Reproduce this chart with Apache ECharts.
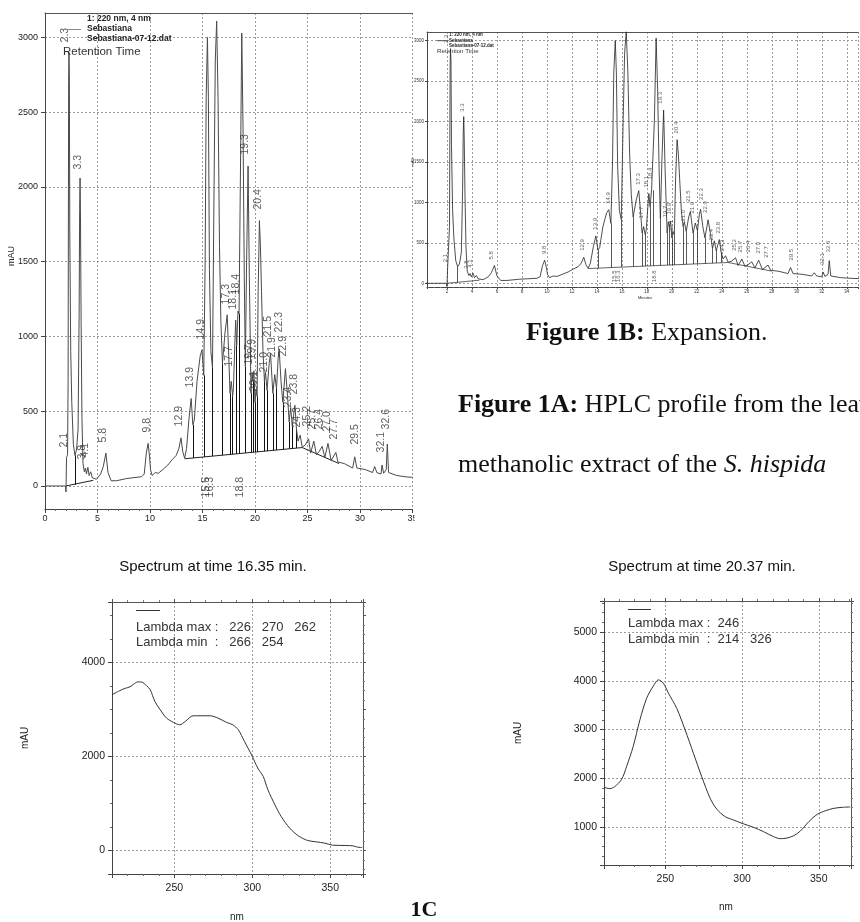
<!DOCTYPE html>
<html><head><meta charset="utf-8">
<script src="https://cdn.jsdelivr.net/npm/echarts@6/dist/echarts.min.js"></script>
<style>html,body{margin:0;padding:0;background:#fff}#c{width:860px;height:922px}</style>
</head><body><div id="c"></div><script>
// ---------- Chromatogram (Figure 1A / 1B) ----------
const chromTime = [0, 1.95, 2.0, 2.05, 2.15, 2.2, 2.25, 2.28, 2.32, 2.36,
  2.45, 2.55, 2.7, 2.85, 3.0, 3.15, 3.25, 3.3, 3.34, 3.38,
  3.44, 3.52, 3.62, 3.75, 3.85, 3.95, 4.08, 4.2, 4.35, 4.5,
  4.9, 5.3, 5.55, 5.8, 6.0, 6.3, 6.8, 7.8, 9.2, 9.45,
  9.65, 9.82, 9.95, 10.05, 10.2, 10.5, 10.8, 11.3, 11.7, 12.1,
  12.5, 12.75, 12.95, 13.12, 13.3, 13.48, 13.72, 13.92, 14.08, 14.22,
  14.48, 14.78, 14.95, 15.12, 15.25, 15.35, 15.47, 15.56, 15.66, 15.8,
  15.95, 16.1, 16.22, 16.35, 16.48, 16.62, 16.75, 16.9, 17.15, 17.35,
  17.5, 17.62, 17.74, 17.87, 17.95, 18.08, 18.16, 18.26, 18.38, 18.48,
  18.6, 18.74, 18.86, 18.98, 19.08, 19.2, 19.34, 19.46, 19.62, 19.72,
  19.8, 19.9, 20.0, 20.1, 20.2, 20.3, 20.42, 20.52, 20.62, 20.76,
  20.9, 21.0, 21.15, 21.35, 21.48, 21.7, 21.88, 22.05, 22.2, 22.3,
  22.48, 22.65, 22.9, 23.1, 23.25, 23.4, 23.55, 23.8, 23.95, 24.1,
  24.3, 24.5, 24.8, 25.1, 25.3, 25.6, 25.85, 26.1, 26.4, 26.65,
  26.95, 27.25, 27.7, 27.9, 28.5, 29.3, 29.5, 29.7, 30.5, 31.2,
  31.4, 31.6, 32.0, 32.1, 32.25, 32.5, 32.6, 32.72, 33.5, 34.5,
  35.0];
const chromMAU = [0, 0, -40, 190, 210, 700, 2700, 2900, 2750, 1700,
  900, 560, 280, 205, 240, 380, 1150, 1850, 2060, 1800,
  1100, 450, 150, 95, 120, 80, 125, 70, 95, 55,
  45, 80, 130, 220, 90, 35, 35, 50, 62, 80,
  220, 285, 200, 110, 70, 90, 85, 115, 140, 175,
  205, 250, 322, 230, 185, 250, 455, 585, 410, 440,
  700, 870, 910, 740, 1500, 2600, 3000, 2600, 1450, 900,
  790, 2000, 2850, 3110, 2600, 1600, 1100, 820, 1030, 1145,
  870, 620, 700, 600, 660, 950, 1110, 940, 1170, 1150,
  2000, 3030, 2400, 1400, 800, 1500, 2140, 1400, 620, 760,
  700, 770, 560, 640, 600, 1300, 1775, 1600, 1300, 900,
  700, 760, 640, 820, 885, 620, 745, 650, 850, 915,
  700, 560, 785, 600, 430, 525, 400, 540, 380, 300,
  340, 260, 275, 315, 220, 300, 210, 230, 265, 190,
  285, 170, 225, 160, 150, 120, 195, 120, 110, 90,
  130, 90, 80, 140, 85, 110, 280, 90, 70, 60,
  58];

// peak retention-time labels: text, label anchor time, label anchor mAU (text foot)
const peakLabelText = ['2.1','2.3','3.3','3.8','4.1','5.8','9.8','12.9','13.9','14.9',
  '15.5','16.3','17.3','17.7','18.1','18.4','18.8','19.3','19.7','19.9',
  '20.1','20.4','21.0','21.5','21.9','22.3','22.9','23.4','23.8','24.3',
  '25.2','25.7','26.4','27.0','27.7','29.5','32.1','32.6'];
const peakLabelTime = [1.9, 2.0, 3.24, 3.6, 3.9, 5.62, 9.8, 12.86, 13.9, 14.95,
  15.4, 15.75, 17.33, 17.6, 18.0, 18.29, 18.67, 19.14, 19.52, 19.81,
  20.0, 20.38, 20.95, 21.33, 21.7, 22.38, 22.76, 23.24, 23.8, 24.1,
  25.05, 25.52, 26.19, 26.95, 27.62, 29.62, 32.1, 32.57];
const peakLabelMAU = [254, 2964, 2114, 174, 187, 288, 355, 395, 656, 977,
  -80, -80, 1211, 796, 1177, 1278, -80, 2214, 809, 843,
  629, 1846, 756, 997, 856, 1024, 863, 522, 609, 388,
  395, 375, 375, 361, 308, 274, 221, 375];
const lowLabelMAU_B = 8;

// integration drop lines (time, baseline mAU, signal mAU)
const dropTime = [2.85, 14.08, 15.12, 15.95, 16.9, 17.62, 17.87, 18.26, 18.48, 19.08,
  19.62, 19.8, 20.0, 20.2, 20.9, 21.15, 21.7, 22.05, 22.65, 23.25, 23.55, 23.95];
const dropLow = [8, 187, 194, 200, 206, 211, 213, 215, 217, 221,
  225, 226, 227, 228, 233, 234, 238, 241, 245, 249, 251, 254];
const dropHigh = [205, 410, 740, 790, 820, 620, 600, 940, 1150, 800,
  620, 700, 560, 600, 700, 640, 620, 650, 560, 430, 400, 380];

// integration baseline segments
const baseT0 = [2.0, 13.3, 24.5];
const baseV0 = [0, 182, 257];
const baseT1 = [4.6, 24.5, 28.0];
const baseV1 = [38, 257, 150];

// ---------- UV spectra (Figure 1C) ----------
const spec1635NM = [210, 215, 218.5, 221.5, 224, 226.5, 229, 232, 234.5, 237.5,
  241, 245, 249.5, 253.5, 257, 262, 266.5, 273, 278, 283.5,
  287.5, 291, 295, 300, 303.5, 307, 310, 314.5, 318.5, 324,
  329.5, 335.5, 341, 346.5, 351.5, 360, 364.5, 367.5, 370.5];
const spec1635MAU = [3312, 3400, 3450, 3480, 3540, 3585, 3582, 3510, 3420, 3170,
  2990, 2816, 2723, 2674, 2745, 2865, 2865, 2865, 2816, 2723,
  2674, 2567, 2319, 2000, 1752, 1574, 1291, 972, 723, 475,
  312, 213, 184, 156, 113, 106, 99, 71, 64];
const spec2037NM = [210, 213.8, 217, 221.5, 224.7, 229, 233.4, 237.8, 242.2, 245.5,
  248.7, 252, 257.4, 262.9, 268.3, 273.7, 279.2, 283.6, 289, 294.4,
  300, 307.5, 314, 320.6, 325, 329.3, 333.7, 338, 343.5, 349,
  354.4, 359.8, 365.3, 370.5];
const spec2037MAU = [1815, 1788, 1829, 1979, 2240, 2651, 3199, 3644, 3897, 4021,
  3952, 3747, 3438, 2992, 2513, 2034, 1589, 1363, 1212, 1144,
  1075, 993, 904, 801, 760, 774, 822, 918, 1110, 1260,
  1335, 1383, 1404, 1411];

const lambda1635 = {max: ['226', '270', '262'], min: ['266', '254']};
const lambda2037 = {max: ['246'], min: ['214', '326']};

// ---------- build ----------
const SANS = 'Liberation Sans, Arial, sans-serif';
const SERIF = 'Liberation Serif, Times New Roman, serif';
const plain = v => String(v);
const dash = {show: true, lineStyle: {color: '#9b9b9b', width: 1, type: [2, 2]}};
const pair = (xs, ys) => xs.map((x, i) => [x, ys[i]]);
const chrom = pair(chromTime, chromMAU);

function labelSeries(xi, yi, fs, lowB) {
  return {
    type: 'scatter', xAxisIndex: xi, yAxisIndex: yi, symbolSize: 1, silent: true, clip: false,
    itemStyle: {color: 'rgba(0,0,0,0)'},
    data: peakLabelText.map((s, i) => ({name: s,
      value: [peakLabelTime[i], (lowB != null && peakLabelMAU[i] < 0) ? lowB : peakLabelMAU[i]]})),
    label: {show: true, formatter: '{b}', rotate: 90, position: [0, 0], align: 'left',
      verticalAlign: 'middle', fontSize: fs, color: '#333', fontFamily: SANS},
    z: 5
  };
}
function dropSeries(xi, yi, w) {
  return {type: 'lines', coordinateSystem: 'cartesian2d', xAxisIndex: xi, yAxisIndex: yi, silent: true,
    data: dropTime.map((t, i) => ({coords: [[t, dropLow[i]], [t, dropHigh[i]]]})),
    lineStyle: {color: '#111', width: w, opacity: 1}, z: 3};
}
function baseSeries(xi, yi, w) {
  return {type: 'lines', coordinateSystem: 'cartesian2d', xAxisIndex: xi, yAxisIndex: yi, silent: true,
    data: baseT0.map((t, i) => ({coords: [[t, baseV0[i]], [baseT1[i], baseV1[i]]]})),
    lineStyle: {color: '#222', width: w, opacity: 1}, z: 3};
}
function traceSeries(xi, yi, w, data, color, smooth) {
  return {type: 'line', xAxisIndex: xi, yAxisIndex: yi, data, showSymbol: false, symbol: 'none',
    smooth: smooth || false, silent: true, lineStyle: {color, width: w}, z: 4};
}
function topAxis(g, min, max, ticks, extra) {
  return Object.assign({gridIndex: g, type: 'value', position: 'top', min, max,
    axisLine: {show: true, onZero: false, lineStyle: {color: '#555'}},
    axisTick: {show: ticks, length: 3, lineStyle: {color: '#555'}},
    minorTick: {show: ticks, splitNumber: 5, length: 2, lineStyle: {color: '#777'}},
    axisLabel: {show: false}, splitLine: {show: false}}, extra || {});
}

const option = {
  animation: false,
  backgroundColor: '#fff',
  grid: [
    {left: 45, top: 13, width: 367.5, height: 496, outerBoundsMode: 'none'},
    {left: 427, top: 32, width: 431, height: 255, outerBoundsMode: 'none'},
    {left: 112, top: 602, width: 251, height: 272, outerBoundsMode: 'none'},
    {left: 604, top: 601, width: 247, height: 264, outerBoundsMode: 'none'}
  ],
  xAxis: [
    {gridIndex: 0, type: 'value', min: 0, max: 35, interval: 5,
      axisLine: {onZero: false, lineStyle: {color: '#444'}},
      axisTick: {length: 4, lineStyle: {color: '#444'}},
      minorTick: {show: true, splitNumber: 5, length: 2, lineStyle: {color: '#666'}},
      axisLabel: {fontSize: 9, color: '#222', margin: 5, fontFamily: SANS, formatter: plain}, splitLine: dash},
    topAxis(0, 0, 35, false),
    {gridIndex: 1, type: 'value', min: 0.4, max: 34.9, minInterval: 2, maxInterval: 2,
      axisLine: {onZero: false, lineStyle: {color: '#444'}},
      axisTick: {length: 2, lineStyle: {color: '#444'}},
      minorTick: {show: true, splitNumber: 4, length: 1, lineStyle: {color: '#777'}},
      axisLabel: {fontSize: 4.5, color: '#333', margin: 2, showMinLabel: false, showMaxLabel: false, fontFamily: SANS, formatter: plain},
      splitLine: dash},
    topAxis(1, 0.4, 34.9, false),
    {gridIndex: 2, type: 'value', min: 210, max: 371, minInterval: 50, maxInterval: 50,
      axisLine: {onZero: false, lineStyle: {color: '#444'}},
      axisTick: {length: 4, lineStyle: {color: '#444'}},
      minorTick: {show: true, splitNumber: 5, length: 2, lineStyle: {color: '#666'}},
      axisLabel: {fontSize: 10.5, color: '#222', margin: 9, showMinLabel: false, showMaxLabel: false, fontFamily: SANS, formatter: plain},
      splitLine: dash},
    topAxis(2, 210, 371, true, {minInterval: 50, maxInterval: 50}),
    {gridIndex: 3, type: 'value', min: 210, max: 371, minInterval: 50, maxInterval: 50,
      axisLine: {onZero: false, lineStyle: {color: '#444'}},
      axisTick: {length: 4, lineStyle: {color: '#444'}},
      minorTick: {show: true, splitNumber: 5, length: 2, lineStyle: {color: '#666'}},
      axisLabel: {fontSize: 10.5, color: '#222', margin: 9, showMinLabel: false, showMaxLabel: false, fontFamily: SANS, formatter: plain},
      splitLine: dash},
    topAxis(3, 210, 371, true, {minInterval: 50, maxInterval: 50})
  ],
  yAxis: [
    {gridIndex: 0, type: 'value', min: -154, max: 3164, minInterval: 500, maxInterval: 500,
      axisLine: {show: true, onZero: false, lineStyle: {color: '#444'}},
      axisTick: {show: true, length: 4, lineStyle: {color: '#444'}},
      axisLabel: {fontSize: 9, color: '#222', margin: 7, showMinLabel: false, showMaxLabel: false, fontFamily: SANS, formatter: plain},
      splitLine: dash},
    {gridIndex: 1, type: 'value', min: -46, max: 3106, minInterval: 500, maxInterval: 500,
      axisLine: {show: true, onZero: false, lineStyle: {color: '#444'}},
      axisTick: {show: true, length: 2, lineStyle: {color: '#444'}},
      axisLabel: {fontSize: 4.5, color: '#333', margin: 3, showMinLabel: false, showMaxLabel: false, fontFamily: SANS, formatter: plain},
      splitLine: dash},
    {gridIndex: 2, type: 'value', min: -500, max: 5285, minInterval: 2000, maxInterval: 2000,
      axisLine: {show: true, onZero: false, lineStyle: {color: '#444'}},
      axisTick: {show: true, length: 4, lineStyle: {color: '#444'}},
      minorTick: {show: true, splitNumber: 4, length: 2, lineStyle: {color: '#666'}},
      axisLabel: {fontSize: 10.5, color: '#222', margin: 7, showMinLabel: false, showMaxLabel: false, fontFamily: SANS, formatter: plain},
      splitLine: dash},
    {gridIndex: 2, type: 'value', position: 'right', min: -500, max: 5285, minInterval: 1000, maxInterval: 1000,
      axisLine: {show: true, onZero: false, lineStyle: {color: '#555'}},
      axisTick: {show: true, length: 3, lineStyle: {color: '#555'}},
      minorTick: {show: true, splitNumber: 5, length: 2, lineStyle: {color: '#777'}},
      axisLabel: {show: false}, splitLine: {show: false}},
    {gridIndex: 3, type: 'value', min: 220, max: 5640, minInterval: 1000, maxInterval: 1000,
      axisLine: {show: true, onZero: false, lineStyle: {color: '#444'}},
      axisTick: {show: true, length: 4, lineStyle: {color: '#444'}},
      minorTick: {show: true, splitNumber: 5, length: 2, lineStyle: {color: '#666'}},
      axisLabel: {fontSize: 10.5, color: '#222', margin: 7, showMinLabel: false, showMaxLabel: false, fontFamily: SANS, formatter: plain},
      splitLine: dash},
    {gridIndex: 3, type: 'value', position: 'right', min: 220, max: 5640, minInterval: 1000, maxInterval: 1000,
      axisLine: {show: true, onZero: false, lineStyle: {color: '#555'}},
      axisTick: {show: true, length: 3, lineStyle: {color: '#555'}},
      minorTick: {show: true, splitNumber: 5, length: 2, lineStyle: {color: '#777'}},
      axisLabel: {show: false}, splitLine: {show: false}}
  ],
  series: [
    traceSeries(0, 0, 1, chrom, '#4a4a4a'),
    baseSeries(0, 0, 1),
    dropSeries(0, 0, 1),
    labelSeries(0, 0, 10.5, null),
    traceSeries(2, 1, 0.8, chrom, '#222'),
    baseSeries(2, 1, 0.7),
    dropSeries(2, 1, 0.7),
    labelSeries(2, 1, 6, lowLabelMAU_B),
    traceSeries(4, 2, 1, pair(spec1635NM, spec1635MAU), '#333', 0.3),
    traceSeries(6, 4, 1, pair(spec2037NM, spec2037MAU), '#333', 0.3)
  ],
  graphic: []
};

function txt(x, y, text, o) {
  o = o || {};
  const st = {text, fill: o.color || '#222', fontSize: o.size || 10, fontFamily: o.family || SANS,
    fontWeight: o.weight || 'normal', fontStyle: o.style || 'normal',
    align: o.align || 'left', verticalAlign: o.va || 'middle',
    textAlign: o.align || 'left', textVerticalAlign: o.va || 'middle'};
  if (o.rich) st.rich = o.rich;
  return {type: 'text', x, y, rotation: o.rot || 0, z: 100, silent: true, style: st};
}
function ln(x1, y1, x2, y2, color) {
  return {type: 'line', z: 100, silent: true, shape: {x1, y1, x2, y2}, style: {stroke: color, lineWidth: 1}};
}
const G = option.graphic;
// 1A legend & axis name
G.push(ln(63, 29.5, 81, 29.5, '#888'));
G.push(txt(87, 19, '1: 220 nm, 4 nm', {size: 8.5, weight: 'bold'}));
G.push(txt(87, 29, 'Sebastiana', {size: 8.5, weight: 'bold'}));
G.push(txt(87, 39, 'Sebastiana-07-12.dat', {size: 8.5, weight: 'bold'}));
G.push(txt(63, 52, 'Retention Time', {size: 11.5, color: '#333'}));
G.push(txt(12, 256, 'mAU', {size: 9, align: 'center', rot: Math.PI / 2}));
G.push({type: 'rect', z: 99, silent: true, shape: {x: 414.5, y: 511, width: 12, height: 18}, style: {fill: '#fff'}});
// 1B legend & axis names
G.push(ln(437, 40.7, 448, 40.7, '#555'));
G.push(txt(449, 35, '1: 220 nm, 4 nm', {size: 4.5, weight: 'bold'}));
G.push(txt(449, 40.5, 'Sebastiana', {size: 4.5, weight: 'bold'}));
G.push(txt(449, 45.5, 'Sebastiana-07-12.dat', {size: 4.5, weight: 'bold'}));
G.push(txt(437, 51, 'Retention Time', {size: 6.2, color: '#333'}));
G.push(txt(413, 162, 'mAU', {size: 4, align: 'center', rot: Math.PI / 2}));
G.push(txt(645, 298, 'Minutes', {size: 4, align: 'center'}));
// captions
G.push(txt(526, 333, '{b|Figure 1B:} Expansion.', {size: 26, family: SERIF, color: '#111',
  rich: {b: {fontWeight: 'bold', fontSize: 26, fontFamily: SERIF, fill: '#111', color: '#111'}}}));
G.push(txt(458, 405, '{b|Figure 1A:} HPLC profile from the leaves', {size: 26, family: SERIF, color: '#111',
  rich: {b: {fontWeight: 'bold', fontSize: 26, fontFamily: SERIF, fill: '#111', color: '#111'}}}));
G.push(txt(458, 465, 'methanolic extract of the {i|S. hispida}', {size: 26, family: SERIF, color: '#111',
  rich: {i: {fontStyle: 'italic', fontSize: 26, fontFamily: SERIF, fill: '#111', color: '#111'}}}));
G.push(txt(424, 910, '1C', {size: 22, family: SERIF, weight: 'bold', color: '#111', align: 'center'}));
// spectrum 16.35
G.push(txt(213, 567, 'Spectrum at time 16.35 min.', {size: 15, align: 'center', color: '#111'}));
G.push(ln(136, 610.5, 160, 610.5, '#333'));
G.push(txt(136, 627, 'Lambda max :   ' + lambda1635.max.join('   '), {size: 13, color: '#333'}));
G.push(txt(136, 642, 'Lambda min  :   ' + lambda1635.min.join('   '), {size: 13, color: '#333'}));
G.push(txt(25, 738, 'mAU', {size: 10, align: 'center', rot: Math.PI / 2}));
G.push(txt(237, 917, 'nm', {size: 10, align: 'center'}));
// spectrum 20.37
G.push(txt(702, 567, 'Spectrum at time 20.37 min.', {size: 15, align: 'center', color: '#111'}));
G.push(ln(628, 609.5, 651, 609.5, '#333'));
G.push(txt(628, 623, 'Lambda max :  ' + lambda2037.max.join('   '), {size: 13, color: '#333'}));
G.push(txt(628, 639, 'Lambda min  :  ' + lambda2037.min.join('   '), {size: 13, color: '#333'}));
G.push(txt(518, 733, 'mAU', {size: 10, align: 'center', rot: Math.PI / 2}));
G.push(txt(726, 907, 'nm', {size: 10, align: 'center'}));

const chart = echarts.init(document.getElementById('c'), null, {renderer: 'canvas'});
chart.setOption(option);
</script></body></html>
